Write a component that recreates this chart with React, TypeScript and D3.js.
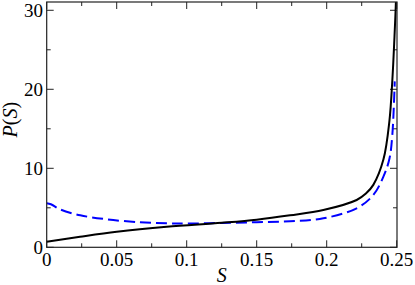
// @ts-nocheck
import { useRef, useEffect } from "react";
import * as d3 from "d3";

// S values and P(S)
const solidS = [0, 0.0238, 0.05, 0.0857, 0.125, 0.15, 0.1738, 0.1976, 0.2214, 0.228, 0.2333, 0.2405, 0.2448, 0.2469, 0.2483, 0.2495, 0.2499];
const solidP = [0.71, 1.34, 1.97, 2.6, 3.11, 3.5, 4.05, 4.72, 5.99, 6.8, 7.9, 11.1, 16.0, 21.2, 26.2, 31.5, 36];

const dashedS = [0, 0.003, 0.0095, 0.024, 0.043, 0.0667, 0.0857, 0.1, 0.125, 0.15, 0.1738, 0.1976, 0.2214, 0.2333, 0.2405, 0.2448, 0.2469, 0.2486];
const dashedP = [5.57, 5.45, 4.8, 4.05, 3.54, 3.16, 3.04, 3.0, 3.08, 3.18, 3.3, 3.67, 4.94, 6.62, 8.94, 11.2, 14.3, 21.0];

const xTicks = [0, 0.05, 0.1, 0.15, 0.2, 0.25];
const xTickLabels = ["0", "0.05", "0.1", "0.15", "0.2", "0.25"];
const xMinor = [0.025, 0.075, 0.125, 0.175, 0.225];
const yTicks = [0, 10, 20, 30];
const yMinor = [5, 15, 25];

export default function App() {
  const ref = useRef(null);

  useEffect(() => {
    const svg = d3.select(ref.current);
    svg.selectAll("*").remove();

    const W = 415;
    const H = 285;
    const left = 46.7, right = 397, top = 2, bottom = 247.3;

    const x = d3.scaleLinear().domain([0, 0.25]).range([left, right - 0.3]);
    const y = d3.scaleLinear().domain([0, 31.05]).range([bottom, top]);

    svg.attr("width", W).attr("height", H);

    svg.append("defs").append("clipPath").attr("id", "plot-clip")
      .append("rect").attr("x", left).attr("y", top).attr("width", right - left).attr("height", bottom - top);

    const font = "'Liberation Serif', Tinos, 'Times New Roman', Times, 'DejaVu Serif', serif";

    // ticks, inward on all four sides
    const g = svg.append("g").attr("stroke", "#222").attr("stroke-width", 1);
    const major = 7, minor = 4;
    xTicks.forEach((t) => {
      g.append("line").attr("x1", x(t)).attr("x2", x(t)).attr("y1", bottom).attr("y2", bottom - major);
      g.append("line").attr("x1", x(t)).attr("x2", x(t)).attr("y1", top).attr("y2", top + major);
    });
    xMinor.forEach((t) => {
      g.append("line").attr("x1", x(t)).attr("x2", x(t)).attr("y1", bottom).attr("y2", bottom - minor);
      g.append("line").attr("x1", x(t)).attr("x2", x(t)).attr("y1", top).attr("y2", top + minor);
    });
    yTicks.forEach((t) => {
      g.append("line").attr("x1", left).attr("x2", left + major).attr("y1", y(t)).attr("y2", y(t));
      g.append("line").attr("x1", right).attr("x2", right - major).attr("y1", y(t)).attr("y2", y(t));
    });
    yMinor.forEach((t) => {
      g.append("line").attr("x1", left).attr("x2", left + minor).attr("y1", y(t)).attr("y2", y(t));
      g.append("line").attr("x1", right).attr("x2", right - minor).attr("y1", y(t)).attr("y2", y(t));
    });

    // curves
    const line = d3.line().x((d) => x(d[0])).y((d) => y(d[1])).curve(d3.curveCatmullRom.alpha(0.5));
    const curves = svg.append("g").attr("clip-path", "url(#plot-clip)");
    curves.append("path")
      .datum(dashedS.map((s, i) => [s, dashedP[i]]))
      .attr("fill", "none")
      .attr("stroke", "#0000ff")
      .attr("stroke-width", 2)
      .attr("stroke-dasharray", "11,5")
      .attr("d", line);
    curves.append("path")
      .datum(solidS.map((s, i) => [s, solidP[i]]))
      .attr("fill", "none")
      .attr("stroke", "#000")
      .attr("stroke-width", 2)
      .attr("d", line);

    // frame
    svg.append("rect")
      .attr("x", left).attr("y", top)
      .attr("width", right - left).attr("height", bottom - top)
      .attr("fill", "none").attr("stroke", "#222").attr("stroke-width", 1.2);

    // tick labels
    xTicks.forEach((t, i) => {
      svg.append("text")
        .attr("x", x(t)).attr("y", 266)
        .attr("text-anchor", "middle")
        .attr("font-family", font).attr("font-size", 19)
        .text(xTickLabels[i]);
    });
    yTicks.forEach((t) => {
      svg.append("text")
        .attr("x", 43).attr("y", y(t)).attr("dy", "0.35em")
        .attr("text-anchor", "end")
        .attr("font-family", font).attr("font-size", 19)
        .text(t);
    });

    // axis titles
    svg.append("text")
      .attr("x", (left + right) / 2).attr("y", 282)
      .attr("text-anchor", "middle")
      .attr("font-family", font).attr("font-size", 20).attr("font-style", "italic")
      .text("S");

    const yl = svg.append("text")
      .attr("transform", `translate(17,${(top + bottom) / 2 - 5}) rotate(-90)`)
      .attr("text-anchor", "middle")
      .attr("font-family", font).attr("font-size", 20);
    yl.append("tspan").attr("font-style", "italic").text("P");
    yl.append("tspan").text("(");
    yl.append("tspan").attr("font-style", "italic").text("S");
    yl.append("tspan").text(")");
  }, []);

  return (
    <svg ref={ref} style={{ position: "fixed", left: 0, top: 0, background: "#fff" }}></svg>
  );
}
